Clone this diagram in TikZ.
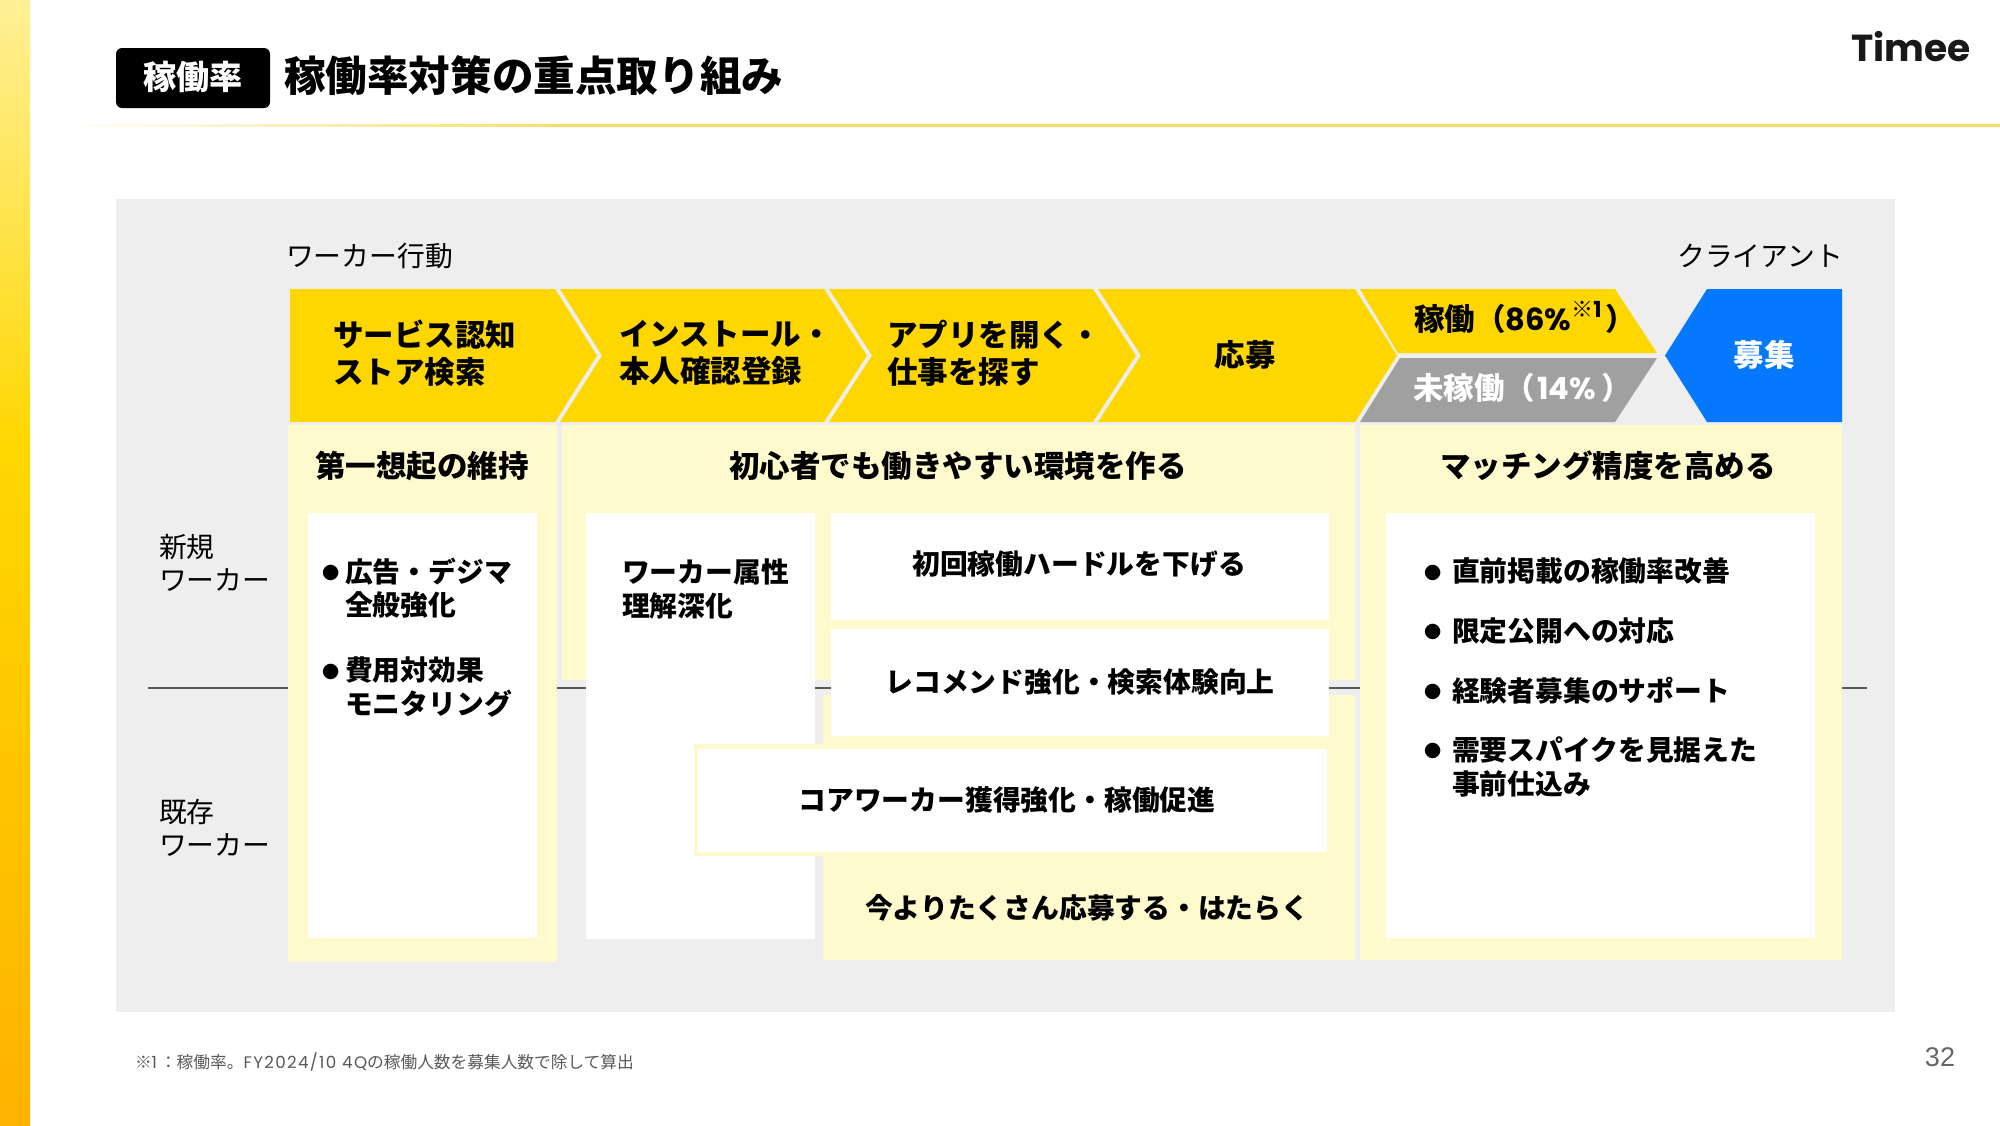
\documentclass[tikz,border=0pt]{standalone}
\usepackage{fontspec}
\setmainfont{Noto Sans CJK JP}
\newfontfamily\popp{Poppins}
\newfontfamily\poppfoot{Poppins}[LetterSpace=8]
\newfontfamily\lib{Liberation Sans}
\definecolor{panelgrey}{HTML}{EEEEEE}
\definecolor{pale}{HTML}{FFFACD}
\definecolor{tyellow}{HTML}{FFD700}
\definecolor{tblue}{HTML}{0478FF}
\definecolor{tgrey}{HTML}{A0A0A0}
\definecolor{barlight}{HTML}{FFF096}
\definecolor{barorange}{HTML}{FFB200}
\definecolor{rulecol}{HTML}{F5DE6E}
\pgfdeclarehorizontalshading{rulefade}{100bp}{color(0bp)=(white); color(25bp)=(white); color(38bp)=(rulecol); color(100bp)=(rulecol)}
\pgfdeclareverticalshading{barfade}{100bp}{color(0bp)=(barorange); color(25bp)=(barorange); color(55bp)=(tyellow); color(75bp)=(barlight); color(100bp)=(barlight)}
\newcommand{\fsz}[2]{\fontsize{#1pt}{#2pt}\selectfont}
\tikzset{
  lab/.style={inner sep=0pt,outer sep=0pt,text height=.88*#1 pt,text depth=.12*#1 pt},
  lab/.default=13.9,
  multi/.style={inner sep=0pt,outer sep=0pt,align=left},
  big/.style={font=\bfseries\fsz{15.25}{18.4}},
  mid/.style={font=\bfseries\fsz{13.9}{16.7}},
  plain/.style={font=\fsz{13.9}{16.4}},
  dot/.style={lab=8.6,font=\bfseries\fsz{8.6}{10}},
  whitebox/.style={fill=white,draw=none},
  palebox/.style={fill=pale,draw=none},
  chev/.style={fill=tyellow,draw=none},
}
\begin{document}
\begin{tikzpicture}[x=0.5pt,y=-0.5pt]
\useasboundingbox (0,0) rectangle (2000,1125);
\fill[white] (0,0) rectangle (2000,1125);
% side bar
\shade[shading=barfade] (0,0) rectangle (30,1125);
% header
\fill[black,rounded corners=3pt] (116,48) rectangle (270,108);
\node[lab=16.6,text=white,font=\bfseries\fsz{16.6}{20}] (badge) at (193,77) {稼働率};
\node[lab=20.8,anchor=west,font=\bfseries\fsz{20.8}{25}] (title) at (284,76) {稼働率対策の重点取り組み};
\shade[shading=rulefade] (60,124.5) rectangle (2000,126.5);
\node[lab=18.8,anchor=east,font=\popp\bfseries\fsz{18.8}{24},text=black!90] (logo) at (1971,47) {Timee};
% panel
\fill[panelgrey] (116,199) rectangle (1895,1012);
\coordinate (divL) at (148,688);
\coordinate (divR) at (1867,688);
\draw[black!65,line width=0.8pt] (divL) -- (divR);
\node[lab,anchor=west,plain] (hworker) at (286,256) {ワーカー行動};
\node[lab,anchor=east,plain] (hclient) at (1843,256) {クライアント};
% chevrons
\fill[chev] (290,289) -- (555,289) -- (597,355.5) -- (555,422) -- (290,422) -- cycle;
\fill[chev] (560,289) -- (824,289) -- (867,355.5) -- (824,422) -- (560,422) -- (602,355.5) -- cycle;
\fill[chev] (829,289) -- (1093,289) -- (1136,355.5) -- (1093,422) -- (829,422) -- (872,355.5) -- cycle;
\fill[chev] (1098,289) -- (1355,289) -- (1397,355.5) -- (1355,422) -- (1098,422) -- (1141,355.5) -- cycle;
\fill[chev] (1360,289) -- (1615,289) -- (1657,353) -- (1398,353) -- cycle;
\fill[tgrey] (1400,358) -- (1657,358) -- (1615,422) -- (1360,422) -- cycle;
\fill[tblue] (1707,289) -- (1842,289) -- (1842,422) -- (1707,422) -- (1665,355.5) -- cycle;
\node[multi,big,anchor=west] (c1) at (333,353) {サービス認知\\ストア検索};
\node[multi,big,anchor=west] (c2) at (619,353) {インストール・\\本人確認登録};
\node[multi,big,anchor=west] (c3) at (887,353) {アプリを開く・\\仕事を探す};
\node[lab=15.25,big] (c4) at (1245,355) {応募};
\node[lab=15.25,big,anchor=west] (c5) at (1414,319) {稼働（{\popp 86\%}\raisebox{.42em}{\fsz{11}{11}※{\popp 1}}\hspace{2pt}）};
\node[lab=15.25,big,text=white,anchor=west] (c6) at (1413,388) {未稼働（\hspace{1pt}{\popp 14\%}\hspace{3pt}）};
\node[lab=15.25,big,text=white] (c7) at (1764,355) {募集};
% pale panels
\fill[palebox] (288,425) rectangle (557,962);
\fill[palebox] (562,425) rectangle (1355,680);
\fill[palebox] (823,695) rectangle (1355,960);
\fill[palebox] (1360,425) rectangle (1842,960);
\node[lab=15.25,big] (p1) at (422,466) {第一想起の維持};
\node[lab=15.25,big] (p2) at (958,466) {初心者でも働きやすい環境を作る};
\node[lab=15.25,big] (p3) at (1608,466) {マッチング精度を高める};
\node[multi,plain,anchor=west] (r1) at (159,563) {新規\\ワーカー};
\node[multi,plain,anchor=west] (r2) at (159,828) {既存\\ワーカー};
% white boxes
\fill[whitebox] (308,513) rectangle (537,938);
\fill[whitebox] (586,513) rectangle (815,939);
\fill[whitebox] (831,513) rectangle (1329,620);
\fill[whitebox] (831,629) rectangle (1329,736);
\fill[palebox] (694,744) rectangle (1330,856);
\fill[whitebox] (698,749) rectangle (1327,852);
\fill[whitebox] (1386,513) rectangle (1815,938);
\node[dot] (b1a) at (331,573) {●};
\node[multi,mid,anchor=west] (b1) at (345,588) {広告・デジマ\\全般強化};
\node[dot] (b2a) at (331,672) {●};
\node[multi,mid,anchor=west] (b2) at (345,687) {費用対効果\\モニタリング};
\node[multi,mid,anchor=west] (w1) at (622,589) {ワーカー属性\\理解深化};
\node[lab,mid] (w2) at (1079,564) {初回稼働ハードルを下げる};
\node[lab,mid] (w3) at (1080,682) {レコメンド強化・検索体験向上};
\node[lab,mid] (w4) at (1007,800) {コアワーカー獲得強化・稼働促進};
\node[lab,mid] (w5) at (1087,908) {今よりたくさん応募する・はたらく};
\node[dot] (m1a) at (1433,573) {●};
\node[lab,mid,anchor=west] (m1) at (1452,571) {直前掲載の稼働率改善};
\node[dot] (m2a) at (1433,632) {●};
\node[lab,mid,anchor=west] (m2) at (1452,631) {限定公開への対応};
\node[dot] (m3a) at (1433,692) {●};
\node[lab,mid,anchor=west] (m3) at (1452,691) {経験者募集のサポート};
\node[dot] (m4a) at (1433,751) {●};
\node[multi,mid,anchor=west] (m4) at (1452,767) {需要スパイクを見据えた\\事前仕込み};
% footer
\node[lab=8.35,anchor=west,font=\fsz{8.35}{10},text=black!65] (foot) at (135,1062) {※{\poppfoot 1}\hspace{1.5pt}：稼働率。{\poppfoot FY2024/10 4Q}の稼働人数を募集人数で除して算出};
\node[lab=13.5,anchor=east,font=\lib\fsz{13.5}{16},text=black!60] (pg) at (1955,1056) {32};
\end{tikzpicture}
\end{document}
